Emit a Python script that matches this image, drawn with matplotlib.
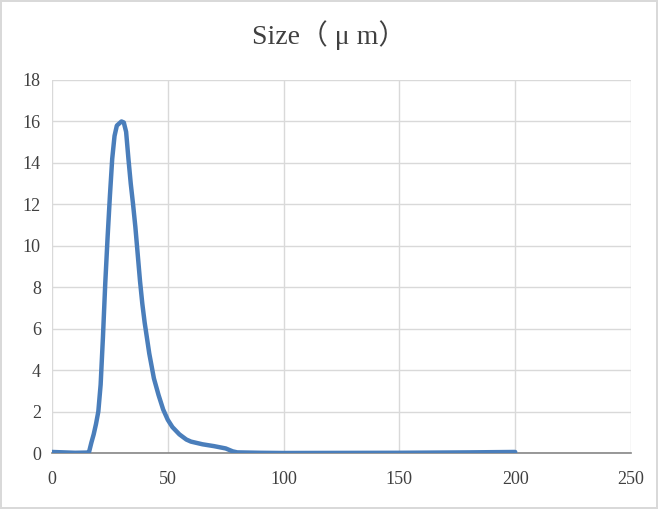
import matplotlib
matplotlib.use('Agg')
import matplotlib.pyplot as plt

# particle size distribution
size_um = [0, 5, 10, 15, 16, 17, 18, 19, 20, 21, 22, 23, 24, 25, 26, 27, 28, 29,
           30, 31, 32, 33, 34, 35, 36, 37, 38, 39, 40, 42, 44, 46, 48, 50, 52, 55,
           58, 60, 65, 70, 75, 78, 80, 90, 100, 150, 180, 200]
fraction = [0.05, 0.03, 0.01, 0.02, 0.05, 0.5, 0.9, 1.4, 2.0, 3.3, 5.6, 8.2, 10.4,
            12.4, 14.2, 15.3, 15.8, 15.9, 16.0, 15.95, 15.5, 14.2, 13.0, 12.0, 10.9,
            9.6, 8.3, 7.2, 6.3, 4.8, 3.6, 2.8, 2.1, 1.6, 1.25, 0.9, 0.65, 0.55, 0.42,
            0.33, 0.22, 0.08, 0.03, 0.01, 0.0, 0.01, 0.03, 0.05]
xticks = [0, 50, 100, 150, 200, 250]
yticks = [0, 2, 4, 6, 8, 10, 12, 14, 16, 18]

fam = ['Liberation Serif', 'Noto Sans CJK SC', 'DejaVu Sans']
plt.rcParams['font.family'] = fam

fig = plt.figure(figsize=(6.58, 5.09), dpi=100)
fig.patch.set_edgecolor('#D9D9D9')
fig.patch.set_linewidth(1.5)
ax = fig.add_axes([52/658, 56/509, 579/658, 373/509])

ax.plot(size_um, fraction, color='#4A7EBB', lw=3.2, solid_capstyle='round', zorder=3)

ax.set_xlim(0, 250)
ax.set_ylim(0, 18)
ax.set_xticks(xticks)
ax.set_yticks(yticks)
ax.grid(True, color='#D9D9D9', lw=1.0)
ax.set_axisbelow(True)
for s in ['top', 'right', 'left']:
    ax.spines[s].set_visible(False)
ax.spines['bottom'].set_color('#868686')
ax.spines['bottom'].set_linewidth(1.2)
ax.tick_params(length=0, labelsize=13, colors='#404040')
ax.tick_params(axis='x', pad=13)
ax.tick_params(axis='y', pad=8)

fig.text(0.5, 1 - 35/509, 'Size（ μ m）', ha='center', va='center',
         fontsize=20, color='#404040', family=fam)

fig.savefig('out.png', dpi=100, edgecolor=fig.get_edgecolor())
